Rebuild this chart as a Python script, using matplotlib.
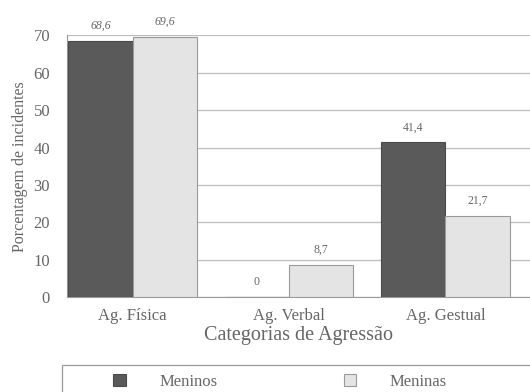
import numpy as np
import matplotlib.pyplot as plt
from matplotlib.patches import Rectangle

# data
categorias = ["Ag. Física", "Ag. Verbal", "Ag. Gestual"]
meninos = [68.6, 0.0, 41.4]
meninas = [69.6, 8.7, 21.7]
rotulos_meninos = ["68,6", "0", "41,4"]
rotulos_meninas = ["69,6", "8,7", "21,7"]

plt.rcParams['font.family'] = ['Liberation Serif', 'DejaVu Serif']

fig = plt.figure(figsize=(5.3, 3.92), dpi=100)
ax = fig.add_axes([0.126, 0.242, 0.874, 0.668])

x = np.arange(len(categorias))
w = 0.41
txt = '#666666'
# the two top labels look slanted in the scan
estilos = ['italic', 'normal', 'normal']

b1 = ax.bar(x - w/2, meninos, w, color='#5a5a5a', edgecolor='#4a4a4a',
            linewidth=0.8, label='Meninos', zorder=3)
b2 = ax.bar(x + w/2, meninas, w, color='#e4e4e4', edgecolor='#9a9a9a',
            linewidth=0.8, label='Meninas', zorder=3)

for i in range(len(x)):
    ax.text(x[i] - w/2, meninos[i] + 2.4, rotulos_meninos[i], ha='center',
            va='bottom', fontsize=8.5, color=txt, style=estilos[i])
    ax.text(x[i] + w/2, meninas[i] + 2.4, rotulos_meninas[i], ha='center',
            va='bottom', fontsize=8.5, color=txt, style=estilos[i])

ax.set_xlim(-0.42, 2.54)
ax.set_ylim(0, 70)
ax.set_yticks(range(0, 71, 10))
ax.set_xticks(x)
ax.set_xticklabels(categorias)
ax.tick_params(length=0, labelsize=12, colors=txt)
ax.tick_params(axis='x', pad=8)
ax.tick_params(axis='y', pad=12)
ax.yaxis.grid(True, color='#bdbdbd', linewidth=0.9, zorder=0)
ax.set_axisbelow(True)
for s in ['top', 'right']:
    ax.spines[s].set_visible(False)
for s in ['left', 'bottom']:
    ax.spines[s].set_color('#9a9a9a')

ax.set_ylabel('Porcentagem de incidentes', fontsize=11.5, color=txt, labelpad=4)
ax.set_xlabel('Categorias de Agressão', fontsize=14.5, color=txt, labelpad=1)

# legend box running off the page
fig.patches.append(Rectangle((62/530, -0.05), 1.0, 1 - 365/392 + 0.05,
                             transform=fig.transFigure, fill=False,
                             edgecolor='#9a9a9a', linewidth=0.9))
fig.legend(handles=[b1, b2], loc='center left',
           bbox_to_anchor=(105/530, 1 - 382/392), ncol=2, frameon=False,
           fontsize=12, labelcolor=txt, handlelength=0.75, handleheight=0.75,
           handletextpad=2.0, columnspacing=7.6, borderpad=0)

fig.savefig('out.png', dpi=100)
